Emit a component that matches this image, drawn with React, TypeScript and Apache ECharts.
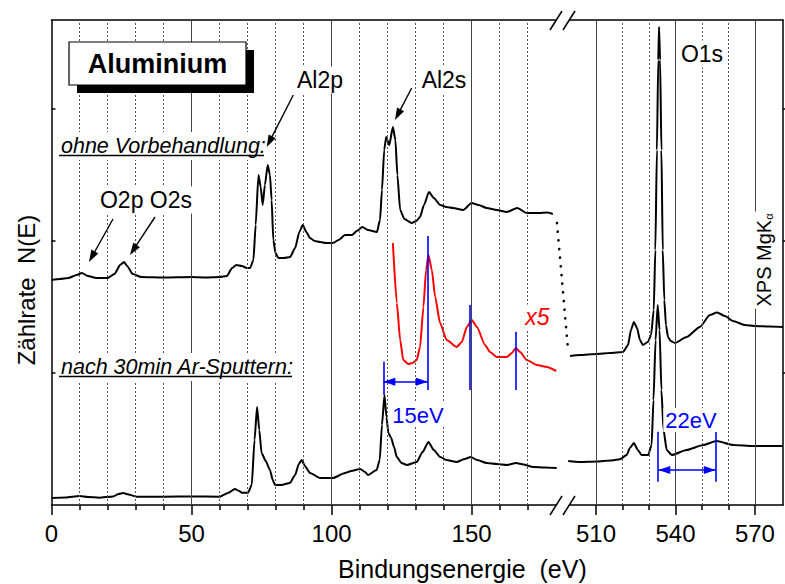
import React, { useEffect, useRef } from "react";
import * as echarts from "echarts";

const FONT = "'Liberation Sans', Arial, Helvetica, sans-serif";

// ---------------- data: binding energy (eV), count rate N(E) (arb. units) ----------------
// "ohne Vorbehandlung" – low energy segment
const upperLeft: number[][] = [
  [0, 225], [3, 226], [6, 227], [9, 230], [10.8, 232], [13, 229], [16, 227], [20, 227], [22.5, 231],
  [24.5, 240], [25.9, 243], [27, 239], [29, 231], [32, 228], [40, 227.5], [50, 228], [55, 227.5],
  [60, 228], [62.6, 229], [64.5, 237], [66, 240], [68, 239], [69.7, 237], [70.9, 237], [72.1, 245],
  [72.9, 280], [73.9, 330], [74.7, 318], [75.4, 300], [76.2, 320], [77.2, 340], [78.0, 330],
  [78.6, 305], [79.2, 265], [80.0, 252], [81.0, 247], [83, 247], [85.2, 248], [87, 257], [88.5, 273],
  [89.7, 280], [91, 273], [92.3, 267], [94, 264], [95.9, 263], [98, 262], [100.5, 262], [102.5, 265],
  [104.8, 270], [107.3, 270], [109, 274], [111, 278], [113, 275], [116.2, 273], [117.3, 285],
  [118, 315], [118.8, 355], [119.5, 368], [120.6, 360], [121.9, 378], [122.8, 365], [123.5, 330],
  [124.5, 295], [126, 286], [128.6, 282], [130.3, 284], [131.6, 288], [133, 300], [134.8, 313],
  [136.5, 307], [138.8, 300], [141, 298], [143.4, 297], [147, 295], [150, 302], [152.5, 300],
  [155.4, 297], [159, 295], [162.6, 293], [166.3, 297], [169.7, 292], [174, 292], [177, 292.5], [179, 291],
];
// "ohne Vorbehandlung" – O1s segment
const upperRight: number[][] = [
  [500.2, 149], [504, 150], [510, 151], [515.3, 152], [520.2, 153], [522.1, 160], [523.2, 175],
  [524.3, 183], [525.5, 177], [526.6, 165], [527.7, 160], [529.6, 163], [530.8, 170], [531.8, 195],
  [532.4, 255], [533.0, 355], [533.5, 445], [533.8, 478], [534.2, 445], [534.7, 355], [535.2, 255],
  [535.8, 205], [536.4, 180], [537.2, 168], [538.2, 164], [539.8, 162], [544.2, 168], [549.2, 178],
  [553, 190], [555.7, 192.5], [558.7, 189], [561.7, 184], [566.2, 180], [570, 179], [575.7, 178.5],
  [580.6, 178],
];
// "nach 30min Ar-Sputtern" – low energy segment
const lowerLeft: number[][] = [
  [0, 7], [5, 7.5], [10, 9], [13, 8], [17, 7.3], [22, 8.5], [24, 11], [25.6, 12], [27.5, 10.5],
  [30.4, 8.3], [40, 8.3], [50, 8.5], [60, 8.3], [63, 12], [65.5, 16], [67, 14], [68, 12.3],
  [70.2, 12.3], [71.5, 20], [72.5, 65], [73.4, 98], [74.2, 75], [75, 52], [76.5, 44], [78, 35],
  [79, 25], [79.8, 20], [82, 20], [85.1, 22], [87, 30], [88.3, 41], [89.3, 45], [90.5, 39],
  [92.3, 32], [95.9, 27], [100.5, 27], [104.8, 32], [107, 34], [110.2, 36], [112, 33], [113, 30],
  [116.1, 35], [117.2, 45], [118.0, 80], [118.9, 110], [119.6, 88], [120.3, 72], [121.3, 67],
  [122.3, 58], [123.3, 48], [125, 42], [126.9, 40], [130.4, 43], [132.5, 53], [134.6, 63],
  [136.5, 55], [138.8, 48], [141, 45], [144.7, 43], [147.5, 46], [149.7, 48], [152, 45], [155.4, 42],
  [159, 41], [162.6, 40], [165.9, 42], [168.5, 40.5], [172, 38], [176, 37.5], [180.4, 37],
];
// "nach 30min Ar-Sputtern" – O1s segment
const lowerRight: number[][] = [
  [499.5, 44], [504, 43], [510.3, 43.5], [515.3, 44.5], [519, 45.7], [521.6, 50], [522.8, 57],
  [524.3, 62], [525.8, 55], [527.2, 50], [529.7, 50], [531.0, 60], [531.7, 105], [532.5, 165],
  [533.3, 200], [534.0, 175], [534.7, 115], [535.5, 75], [536.7, 55], [538.6, 50], [544.2, 55],
  [550.5, 60], [555.5, 64], [561.8, 60], [569.4, 59], [580.6, 59],
];
// sputtered spectrum, x5 magnified
const redX5: number[][] = [
  [121.9, 262], [123.3, 202], [124.5, 165], [125.6, 145], [127.4, 141], [128.9, 142], [130.4, 145],
  [131.6, 158], [132.8, 198], [133.75, 235], [134.6, 250], [135.8, 235], [137.0, 208], [138.75, 182],
  [141.1, 165], [144.7, 158], [146.5, 163], [148.3, 178], [150.1, 185], [151.9, 178], [154.8, 160],
  [156.6, 153], [159.0, 148], [162.6, 148], [164.4, 152], [165.8, 157], [167.3, 153], [169.7, 145],
  [173.3, 140], [176.9, 138], [180.2, 134],
];
// dotted connector between the two segments of the upper spectrum
const connectorFrom = [180.5, 282];
const connectorTo = [499.4, 157];

// plasmon markers: [eV, bottom, top]
const blueLeft: number[][] = [[118.5, 110, 143.3], [134.4, 115, 269], [149.5, 115, 200], [165.8, 115, 173.3]];
const blueRight: number[][] = [[533.5, 23.3, 73.3], [555.2, 23.3, 73.3]];
const shift15 = [118.5, 134.4];
const shift15Y = 123.3;
const shift22 = [533.5, 555.2];
const shift22Y = 35;

// axes
const leftMajor = [0, 50, 100, 150];
const leftMinor = [10, 20, 30, 40, 60, 70, 80, 90, 110, 120, 130, 140, 160, 170];
const rightMajor = [510, 540, 570];
const rightMinor = [520, 530, 550, 560];
const yTicks = [132, 264, 396];
const leftRange = [0, 180.5];
const rightRange = [498.3, 580.6];
const yRange = [0, 485];

const AXIS = { color: "#000", width: 1.5 };

function xAxisDef(grid: number, range: number[], vals: number[], kind: "major" | "minor" | "top") {
  return {
    type: "value",
    gridIndex: grid,
    position: kind === "top" ? "top" : "bottom",
    min: range[0],
    max: range[1],
    axisLine: { show: kind !== "minor", onZero: false, lineStyle: AXIS },
    axisTick: {
      show: kind !== "top",
      customValues: vals,
      length: kind === "major" ? 10 : 5,
      inside: false,
      lineStyle: AXIS,
    },
    axisLabel: {
      show: kind === "major",
      customValues: vals,
      margin: 16,
      fontSize: 24,
      fontFamily: FONT,
      color: "#000",
      formatter: (v: number) => String(v),
    },
    splitLine: { show: false },
    minorTick: { show: false },
    minorSplitLine: { show: false },
  };
}

function yAxisDef(grid: number, pos: "left" | "right") {
  return {
    type: "value",
    gridIndex: grid,
    position: pos,
    min: yRange[0],
    max: yRange[1],
    axisLine: { show: true, onZero: false, lineStyle: AXIS },
    axisTick: { show: true, inside: pos === "left", length: 4, customValues: yTicks, lineStyle: AXIS },
    axisLabel: { show: false },
    splitLine: { show: false },
  };
}

function gridLines(xi: number, yi: number, minor: number[], major: number[]) {
  return {
    type: "line",
    data: [],
    xAxisIndex: xi,
    yAxisIndex: yi,
    z: 1,
    silent: true,
    markLine: {
      silent: true,
      symbol: "none",
      animation: false,
      label: { show: false },
      emphasis: { disabled: true },
      data: [
        ...minor.map((v) => ({ xAxis: v, lineStyle: { type: [2, 2], color: "#555", width: 1 } })),
        ...major.filter((v) => v > 0).map((v) => ({ xAxis: v, lineStyle: { type: "solid", color: "#444", width: 1 } })),
      ],
    },
  };
}

function spectrum(data: number[][], xi: number, yi: number, color: string, w: number) {
  return {
    type: "line",
    data,
    xAxisIndex: xi,
    yAxisIndex: yi,
    symbol: "none",
    showSymbol: false,
    silent: true,
    smooth: 0.2,
    smoothMonotone: "x",
    z: 3,
    lineStyle: { color, width: w, join: "round" },
  };
}

function blueMarks(xi: number, yi: number, lines: number[][], shift: number[], sy: number) {
  return {
    type: "line",
    data: [],
    xAxisIndex: xi,
    yAxisIndex: yi,
    z: 4,
    silent: true,
    markLine: {
      silent: true,
      symbol: "none",
      animation: false,
      label: { show: false },
      emphasis: { disabled: true },
      lineStyle: { color: "#0000ff", width: 1.6, type: "solid" },
      data: [
        ...lines.map((l) => [{ coord: [l[0], l[1]] }, { coord: [l[0], l[2]] }]),
        [{ coord: [shift[0], sy] }, { coord: [shift[1], sy] }],
      ],
    },
  };
}

function head(tip: number[], from: number[], color: string, len: number, hw: number) {
  const dx = tip[0] - from[0];
  const dy = tip[1] - from[1];
  const L = Math.hypot(dx, dy) || 1;
  const ux = dx / L;
  const uy = dy / L;
  const bx = tip[0] - ux * len;
  const by = tip[1] - uy * len;
  return {
    type: "polygon",
    z: 30,
    shape: { points: [[tip[0], tip[1]], [bx - uy * hw, by + ux * hw], [bx + uy * hw, by - ux * hw]] },
    style: { fill: color },
  };
}

function arrow(x1: number, y1: number, x2: number, y2: number) {
  const L = Math.hypot(x2 - x1, y2 - y1);
  const f = (L - 10) / L;
  return [
    { type: "line", z: 30, shape: { x1, y1, x2: x1 + (x2 - x1) * f, y2: y1 + (y2 - y1) * f }, style: { stroke: "#000", lineWidth: 1.4 } },
    head([x2, y2], [x1, y1], "#000", 12, 4),
  ];
}

function txt(text: string, x: number, y: number, o: any = {}) {
  const font = `${o.italic ? "italic " : ""}${o.weight || "normal"} ${o.size || 23}px ${FONT}`;
  const style: any = {
    text,
    fill: o.color || "#000",
    font,
    textAlign: o.align || "center",
    textVerticalAlign: "middle",
    align: o.align || "center",
    verticalAlign: "middle",
  };
  if (o.bg) {
    style.backgroundColor = o.bg;
    style.padding = o.pad || [2, 3];
  }
  if (o.rich) style.rich = o.rich;
  return { type: "text", x, y, rotation: o.rot || 0, z: 25, style };
}

function breakMark(yc: number) {
  return [
    { type: "polygon", z: 26, shape: { points: [[551, yc + 9.5], [562.5, yc - 9.5], [575, yc - 9.5], [563.5, yc + 9.5]] }, style: { fill: "#fff" } },
    { type: "line", z: 27, shape: { x1: 550, y1: yc + 9.5, x2: 562, y2: yc - 9.5 }, style: { stroke: "#000", lineWidth: 1.5 } },
    { type: "line", z: 27, shape: { x1: 563, y1: yc + 9.5, x2: 575, y2: yc - 9.5 }, style: { stroke: "#000", lineWidth: 1.5 } },
  ];
}

export default function App() {
  const ref = useRef<HTMLDivElement>(null);
  useEffect(() => {
    if (!ref.current) return;
    const chart = echarts.init(ref.current, null, { renderer: "svg" });
    chart.setOption({
      animation: false,
      backgroundColor: "#fff",
      grid: [
        { left: 51.5, right: 228, top: 20, bottom: 79, outerBoundsMode: "none" },
        { left: 565, right: 2, top: 20, bottom: 79, outerBoundsMode: "none" },
      ],
      xAxis: [
        xAxisDef(0, leftRange, leftMajor, "major"),
        xAxisDef(0, leftRange, leftMinor, "minor"),
        xAxisDef(0, leftRange, [], "top"),
        xAxisDef(1, rightRange, rightMajor, "major"),
        xAxisDef(1, rightRange, rightMinor, "minor"),
        xAxisDef(1, rightRange, [], "top"),
      ],
      yAxis: [yAxisDef(0, "left"), yAxisDef(1, "right")],
      series: [
        gridLines(0, 0, leftMinor, leftMajor),
        gridLines(3, 1, rightMinor, rightMajor),
        spectrum(upperLeft, 0, 0, "#000", 2),
        spectrum(lowerLeft, 0, 0, "#000", 2),
        spectrum(redX5, 0, 0, "#ff0000", 2),
        spectrum(upperRight, 3, 1, "#000", 2),
        spectrum(lowerRight, 3, 1, "#000", 2),
        blueMarks(0, 0, blueLeft, shift15, shift15Y),
        blueMarks(3, 1, blueRight, shift22, shift22Y),
      ],
    });

    const px = (xi: number, yi: number, p: number[]) =>
      chart.convertToPixel({ xAxisIndex: xi, yAxisIndex: yi } as any, p) as unknown as number[];

    const c1 = px(0, 0, connectorFrom);
    const c2 = px(3, 1, connectorTo);
    const a1 = px(0, 0, [shift15[0], shift15Y]);
    const a2 = px(0, 0, [shift15[1], shift15Y]);
    const b1 = px(3, 1, [shift22[0], shift22Y]);
    const b2 = px(3, 1, [shift22[1], shift22Y]);

    const graphic: any[] = [
      // connector
      {
        type: "line",
        z: 5,
        shape: { x1: c1[0], y1: c1[1], x2: c2[0], y2: c2[1] },
        style: { stroke: "#000", lineWidth: 2.6, lineDash: [0.1, 8.6], lineCap: "round" },
      },
      head(a1, a2, "#0000ff", 12, 4),
      head(a2, a1, "#0000ff", 12, 4),
      head(b1, b2, "#0000ff", 12, 4),
      head(b2, b1, "#0000ff", 12, 4),
      ...breakMark(20.5),
      ...breakMark(505.5),
      // title box
      { type: "rect", z: 20, shape: { x: 77, y: 50, width: 177, height: 43 }, style: { fill: "#000" } },
      { type: "rect", z: 21, shape: { x: 69, y: 42, width: 177, height: 43 }, style: { fill: "#fff", stroke: "#000", lineWidth: 1.2 } },
      txt("Aluminium", 157.5, 64, { size: 27, weight: "bold" }),
      // sample labels
      txt("ohne Vorbehandlung:", 59, 146, { size: 21.5, italic: true, align: "left", bg: "#fff", pad: [3, 2] }),
      { type: "line", z: 26, shape: { x1: 59, y1: 155.5, x2: 264, y2: 155.5 }, style: { stroke: "#000", lineWidth: 1.3 } },
      txt("nach 30min Ar-Sputtern:", 59, 367, { size: 21.5, italic: true, align: "left", bg: "#fff", pad: [3, 2] }),
      { type: "line", z: 26, shape: { x1: 59, y1: 376.5, x2: 292, y2: 376.5 }, style: { stroke: "#000", lineWidth: 1.3 } },
      // peak labels
      txt("Al2p", 320, 80, { bg: "#fff" }),
      txt("Al2s", 444, 80, { bg: "#fff" }),
      txt("O1s", 702, 54, { bg: "#fff" }),
      txt("O2p O2s", 146, 200, { bg: "#fff" }),
      ...arrow(293.3, 95, 266.7, 147),
      ...arrow(411.7, 88, 395, 120),
      ...arrow(113, 219, 89, 262),
      ...arrow(155, 217, 130, 255),
      txt("x5", 537.5, 317, { color: "#ff0000", italic: true, bg: "#fff", pad: [1, 2] }),
      txt("15eV", 418, 415, { color: "#0000ff", size: 22, bg: "#fff", pad: [1, 2] }),
      txt("22eV", 691, 420, { color: "#0000ff", size: 22, bg: "#fff", pad: [1, 2] }),
      txt("XPS MgK{a|α}", 764, 260, {
        size: 20,
        rot: Math.PI / 2,
        bg: "#fff",
        pad: [2, 2],
        rich: { a: { font: `11px ${FONT}`, fill: "#000", verticalAlign: "bottom", padding: [8, 0, 0, 0] } },
      }),
      // axis titles
      txt("Bindungsenergie  (eV)", 338, 569, { size: 25, align: "left" }),
      txt("Zählrate  N(E)", 26, 290, { size: 24, rot: Math.PI / 2 }),
    ];
    chart.setOption({ graphic });
    return () => chart.dispose();
  }, []);
  return <div ref={ref} style={{ position: "absolute", left: 0, top: 0, width: 785, height: 584, background: "#fff" }} />;
}
